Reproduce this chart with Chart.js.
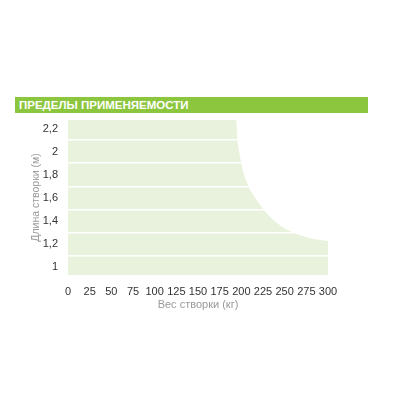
<!DOCTYPE html>
<html>
<head>
<meta charset="utf-8">
<script src="https://cdn.jsdelivr.net/npm/chart.js@4"></script>
<style>
  html, body { margin: 0; padding: 0; background: #fff; }
  #wrap { position: relative; width: 400px; height: 400px; }
  #banner { position: absolute; left: 15px; top: 97px; width: 353px; height: 16px;
    background: #8cc63e; color: #fff; font: bold 11.5px "Liberation Sans", Arial, sans-serif;
    line-height: 16px; padding-left: 4px; box-sizing: border-box; letter-spacing: 0px; }
  canvas { position: absolute; left: 0; top: 0; }
</style>
</head>
<body>
<div id="wrap">
  <canvas id="c" width="400" height="400"></canvas>
  <div id="banner">ПРЕДЕЛЫ ПРИМЕНЯЕМОСТИ</div>
</div>
<script>
// Boundary of the applicability region (weight kg -> max leaf length m)
const weightKg = [0, 194, 195.3, 197, 199.3, 202.3, 206.9, 213.8, 223.5, 235, 250.4, 267.7, 290.8, 300];
const lengthM  = [2.275, 2.275, 2.117, 2.025, 1.924, 1.823, 1.723, 1.622, 1.521, 1.421, 1.334, 1.276, 1.233, 1.225];

const xTickMin = 0, xTickMax = 300, xTickStep = 25;
const yTickValues = [1, 1.2, 1.4, 1.6, 1.8, 2, 2.2];
const yTickLabels = ['1', '1,2', '1,4', '1,6', '1,8', '2', '2,2'];
const yGridValues = [1.1, 1.3, 1.5, 1.7, 1.9, 2.1];
const yMin = 0.93, yMax = 2.275;

const xTitle = 'Вес створки (кг)';
const yTitle = 'Длина створки (м)';

const points = weightKg.map((x, i) => ({ x: x, y: lengthM[i] }));
const font = "'Liberation Sans', Arial, sans-serif";

new Chart(document.getElementById('c'), {
  type: 'line',
  data: {
    datasets: [{
      data: points,
      borderWidth: 0,
      borderColor: 'rgba(0,0,0,0)',
      backgroundColor: '#e9f2dd',
      fill: 'start',
      pointRadius: 0,
      cubicInterpolationMode: 'monotone'
    }]
  },
  options: {
    responsive: false,
    animation: false,
    layout: { padding: { left: 25, right: 72, top: 120, bottom: 85 } },
    plugins: { legend: { display: false }, tooltip: { enabled: false } },
    scales: {
      x: {
        type: 'linear', min: xTickMin, max: xTickMax,
        ticks: { stepSize: xTickStep, color: '#333', font: { family: font, size: 11 }, padding: 10, maxRotation: 0, autoSkip: false },
        grid: { display: false, drawTicks: false },
        border: { display: false },
        title: { display: true, text: xTitle, color: '#9a9a9a', font: { family: font, size: 11 }, padding: { top: 0, bottom: 3 } },
        afterFit: (s) => { s.height = 40; }
      },
      y: {
        type: 'linear', min: yMin, max: yMax,
        afterBuildTicks: (s) => {
          const vals = yTickValues.concat(yGridValues).sort((a, b) => a - b);
          s.ticks = vals.map(v => ({ value: v }));
        },
        ticks: {
          autoSkip: false, color: '#333', font: { family: font, size: 11 }, padding: 10,
          callback: (v) => {
            const i = yTickValues.findIndex(t => Math.abs(t - v) < 1e-6);
            return i >= 0 ? yTickLabels[i] : '';
          }
        },
        grid: {
          z: 1, drawTicks: false, lineWidth: 1.5,
          color: (ctx) => (ctx.tick && yGridValues.some(g => Math.abs(g - ctx.tick.value) < 1e-6)) ? '#ffffff' : 'rgba(0,0,0,0)'
        },
        border: { display: false },
        title: { display: true, text: yTitle, color: '#9a9a9a', font: { family: font, size: 10.5 }, padding: { top: 5, bottom: 0 } },
        afterFit: (s) => { s.width = 43; }
      }
    }
  }
});
</script>
</body>
</html>
